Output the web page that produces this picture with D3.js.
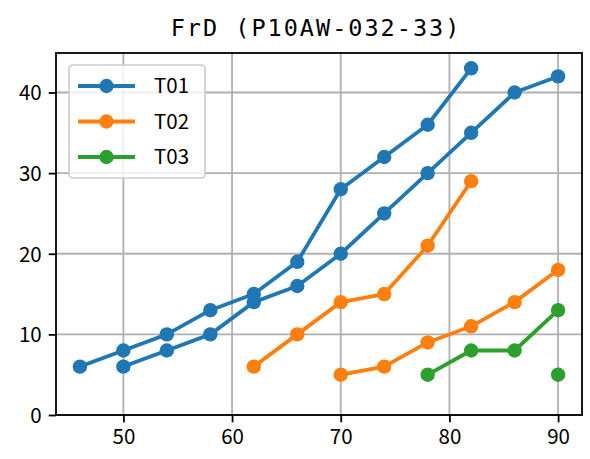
<!DOCTYPE html>
<html>
<head>
<meta charset="utf-8">
<script src="https://cdn.jsdelivr.net/npm/d3@7/dist/d3.min.js"></script>
<style>
  html, body { margin: 0; padding: 0; background: #fff; }
  svg { display: block; }
</style>
</head>
<body>
<svg id="chart" width="590" height="459"></svg>
<script>
// ---- data ----
const title = "FrD (P10AW-032-33)";
const seriesNames = ["T01", "T02", "T03"];
const seriesColors = ["#1f77b4", "#ff7f0e", "#2ca02c"];

const t01_a_x = [46, 50, 54, 58, 62, 66, 70, 74, 78, 82];
const t01_a_y = [6, 8, 10, 13, 15, 19, 28, 32, 36, 43];
const t01_b_x = [50, 54, 58, 62, 66, 70, 74, 78, 82, 86, 90];
const t01_b_y = [6, 8, 10, 14, 16, 20, 25, 30, 35, 40, 42];

const t02_a_x = [62, 66, 70, 74, 78, 82];
const t02_a_y = [6, 10, 14, 15, 21, 29];
const t02_b_x = [70, 74, 78, 82, 86, 90];
const t02_b_y = [5, 6, 9, 11, 14, 18];

const t03_a_x = [78, 82, 86, 90];
const t03_a_y = [5, 8, 8, 13];
const t03_b_x = [90];
const t03_b_y = [5];

const xTicks = [50, 60, 70, 80, 90];
const yTicks = [0, 10, 20, 30, 40];
const xDomain = [43.8, 92.2];
const yDomain = [0, 44.9];

// ---- build segments ----
const zip = (xs, ys) => xs.map((x, i) => ({x, y: ys[i]}));
const segments = [
  {s: 0, pts: zip(t01_a_x, t01_a_y)},
  {s: 0, pts: zip(t01_b_x, t01_b_y)},
  {s: 1, pts: zip(t02_a_x, t02_a_y)},
  {s: 1, pts: zip(t02_b_x, t02_b_y)},
  {s: 2, pts: zip(t03_a_x, t03_a_y)},
  {s: 2, pts: zip(t03_b_x, t03_b_y)},
];

// ---- layout ----
const L = 56, R = 582, T = 53, B = 415;
const svg = d3.select("#chart");
const x = d3.scaleLinear().domain(xDomain).range([L, R]);
const y = d3.scaleLinear().domain(yDomain).range([B, T]);

const tickFont = "'Noto Sans CJK JP', 'Liberation Sans', sans-serif";
const tickSize = 20.5;
const lw = 3.8, mr = 7.2;

// grid
const grid = svg.append("g");
grid.selectAll("line.gx").data(xTicks).enter().append("line")
  .attr("x1", d => x(d)).attr("x2", d => x(d)).attr("y1", T).attr("y2", B)
  .attr("stroke", "#b0b0b0").attr("stroke-width", 1.8);
grid.selectAll("line.gy").data(yTicks).enter().append("line")
  .attr("y1", d => y(d)).attr("y2", d => y(d)).attr("x1", L).attr("x2", R)
  .attr("stroke", "#b0b0b0").attr("stroke-width", 1.8);

// axes
const xAxis = d3.axisBottom(x).tickValues(xTicks).tickSize(7.3).tickPadding(6).tickFormat(d3.format("d"));
const yAxis = d3.axisLeft(y).tickValues(yTicks).tickSize(7.3).tickPadding(7).tickFormat(d3.format("d"));
const gx = svg.append("g").attr("transform", `translate(0,${B})`).call(xAxis);
const gy = svg.append("g").attr("transform", `translate(${L},0)`).call(yAxis);
[gx, gy].forEach(g => {
  g.select(".domain").remove();
  g.selectAll(".tick line").attr("stroke", "#000").attr("stroke-width", 1.8);
  g.selectAll(".tick text").attr("fill", "#000")
    .style("font-family", tickFont).style("font-size", tickSize + "px");
});
gx.selectAll(".tick text").attr("dy", "0.76em");
gy.selectAll(".tick text").attr("dy", "0.36em");

// lines
const line = d3.line().x(d => x(d.x)).y(d => y(d.y));
const gData = svg.append("g");
segments.forEach(seg => {
  const c = seriesColors[seg.s];
  if (seg.pts.length > 1) {
    gData.append("path").datum(seg.pts).attr("d", line)
      .attr("fill", "none").attr("stroke", c).attr("stroke-width", lw)
      .attr("stroke-linejoin", "round").attr("stroke-linecap", "square");
  }
  gData.selectAll(null).data(seg.pts).enter().append("circle")
    .attr("cx", d => x(d.x)).attr("cy", d => y(d.y)).attr("r", mr)
    .attr("fill", c);
});

// spines
svg.append("rect").attr("x", L).attr("y", T).attr("width", R - L).attr("height", B - T)
  .attr("fill", "none").attr("stroke", "#000").attr("stroke-width", 1.8);

// legend
const lg = svg.append("g");
lg.append("rect").attr("x", 69).attr("y", 65).attr("width", 136).attr("height", 113)
  .attr("rx", 4).attr("ry", 4)
  .attr("fill", "#fff").attr("fill-opacity", 0.8)
  .attr("stroke", "#cccccc").attr("stroke-width", 1.67);
seriesNames.forEach((name, i) => {
  const cy = 86 + i * 35.5;
  lg.append("line").attr("x1", 78).attr("x2", 135).attr("y1", cy).attr("y2", cy)
    .attr("stroke", seriesColors[i]).attr("stroke-width", lw);
  lg.append("circle").attr("cx", 106.5).attr("cy", cy).attr("r", mr).attr("fill", seriesColors[i]);
  lg.append("text").attr("x", 154).attr("y", cy).attr("dy", "0.36em")
    .style("font-family", tickFont).style("font-size", tickSize + "px")
    .attr("fill", "#000").text(name);
});

// title
svg.append("text").attr("x", 316).attr("y", 35.7)
  .attr("text-anchor", "middle")
  .style("font-family", "'DejaVu Sans Mono', monospace")
  .style("font-size", "23.5px")
  .style("letter-spacing", "2px")
  .attr("fill", "#000").text(title);
</script>
</body>
</html>
